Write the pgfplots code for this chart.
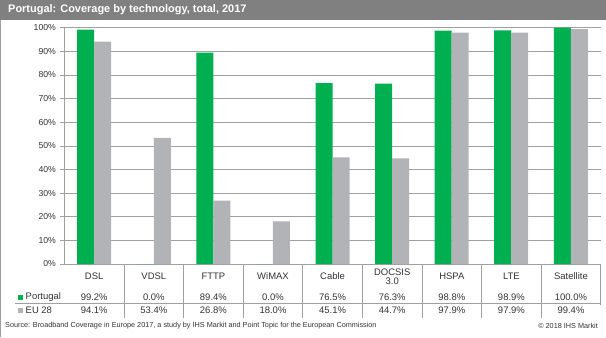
\documentclass[border=0pt]{standalone}
\usepackage{pgfplots}
\pgfplotsset{compat=1.18}
\usepackage{fontspec}
\setmainfont{Liberation Sans}
\definecolor{ptgreen}{HTML}{00B050}
\definecolor{eugrey}{HTML}{B2B3B7}
\definecolor{titlegrey}{HTML}{808080}
\definecolor{linegrey}{HTML}{A0A0A0}
\definecolor{txt}{HTML}{333333}
\begin{document}
\begin{tikzpicture}[x=1bp,y=1bp]
\path[use as bounding box] (0,0) rectangle (606,337);
\fill[titlegrey] (0,317) rectangle (606,337);
\node[anchor=west, text=white, font=\bfseries\fontsize{11}{13}\selectfont, inner sep=0] at (8,327.5) {Portugal: Coverage by technology, total, 2017};
\draw[linegrey, line width=0.8bp] (0.4,0) -- (0.4,317);
\begin{axis}[
  at={(64.4bp,73bp)}, anchor=south west,
  scale only axis, width=536.2bp, height=236.3bp,
  xmin=-0.5, xmax=8.5, ymin=0, ymax=100,
  ybar=0pt, bar width=17bp,
  axis x line*=bottom, axis y line*=left,
  axis line style={linegrey, line width=0.7bp},
  xtick=\empty,
  ytick={0,10,...,100},
  ymajorgrids, grid style={linegrey, line width=0.7bp},
  tick align=outside, major tick length=4bp,
  tick style={linegrey, line width=0.7bp},
  yticklabel={\pgfmathprintnumber{\tick}\%},
  /pgf/number format/assume math mode=true,
  yticklabel style={font=\fontsize{8.7}{10}\selectfont, text=txt, xshift=-1bp},
  clip=false,
]
\addplot[fill=ptgreen, draw=none] coordinates {(0,99.2)(1,0)(2,89.4)(3,0)(4,76.5)(5,76.3)(6,98.8)(7,98.9)(8,100)};
\addplot[fill=eugrey, draw=none] coordinates {(0,94.1)(1,53.4)(2,26.8)(3,18.0)(4,45.1)(5,44.7)(6,97.9)(7,97.9)(8,99.4)};
\end{axis}
% data table
\draw[linegrey, line width=0.7bp] (15,34) -- (600.6,34);
\foreach \k in {1,...,8} {
  \draw[linegrey, line width=0.7bp] ({64.4+59.6*\k},73) -- ({64.4+59.6*\k},19);
}
\draw[linegrey, line width=0.7bp] (600.6,73) -- (600.6,32);
\foreach \i/\lab/\pt/\eu in {0/DSL/99.2/94.1, 1/VDSL/0.0/53.4, 2/FTTP/89.4/26.8, 3/WiMAX/0.0/18.0, 4/Cable/76.5/45.1, 5/{DOCSIS\\3.0}/76.3/44.7, 6/HSPA/98.8/97.9, 7/LTE/98.9/97.9, 8/Satellite/100.0/99.4} {
  \node[font=\fontsize{9.5}{9}\selectfont, text=txt, align=center, inner sep=0] at ({94.2+59.6*\i},60.5) {\lab};
  \node[font=\fontsize{9.5}{11}\selectfont, text=txt, inner sep=0] at ({94.2+59.6*\i},40) {\pt\%};
  \node[font=\fontsize{9.5}{11}\selectfont, text=txt, inner sep=0] at ({94.2+59.6*\i},27) {\eu\%};
}
\fill[ptgreen] (18,37.5) rectangle (23,42.5);
\node[anchor=west, font=\fontsize{9.5}{11}\selectfont, text=txt, inner sep=0] at (25.5,40) {Portugal};
\fill[eugrey] (18,24.5) rectangle (23,29.5);
\node[anchor=west, font=\fontsize{9.5}{11}\selectfont, text=txt, inner sep=0] at (25.5,27) {EU 28};
% source
\node[anchor=west, font=\fontsize{7.3}{9}\selectfont, text=txt, inner sep=0] at (5,11) {Source: Broadband Coverage in Europe 2017, a study by IHS Markit and Point Topic for the European Commission};
\node[anchor=east, font=\fontsize{7.3}{9}\selectfont, text=txt, inner sep=0] at (598,11) {© 2018 IHS Markit};
\end{tikzpicture}
\end{document}
